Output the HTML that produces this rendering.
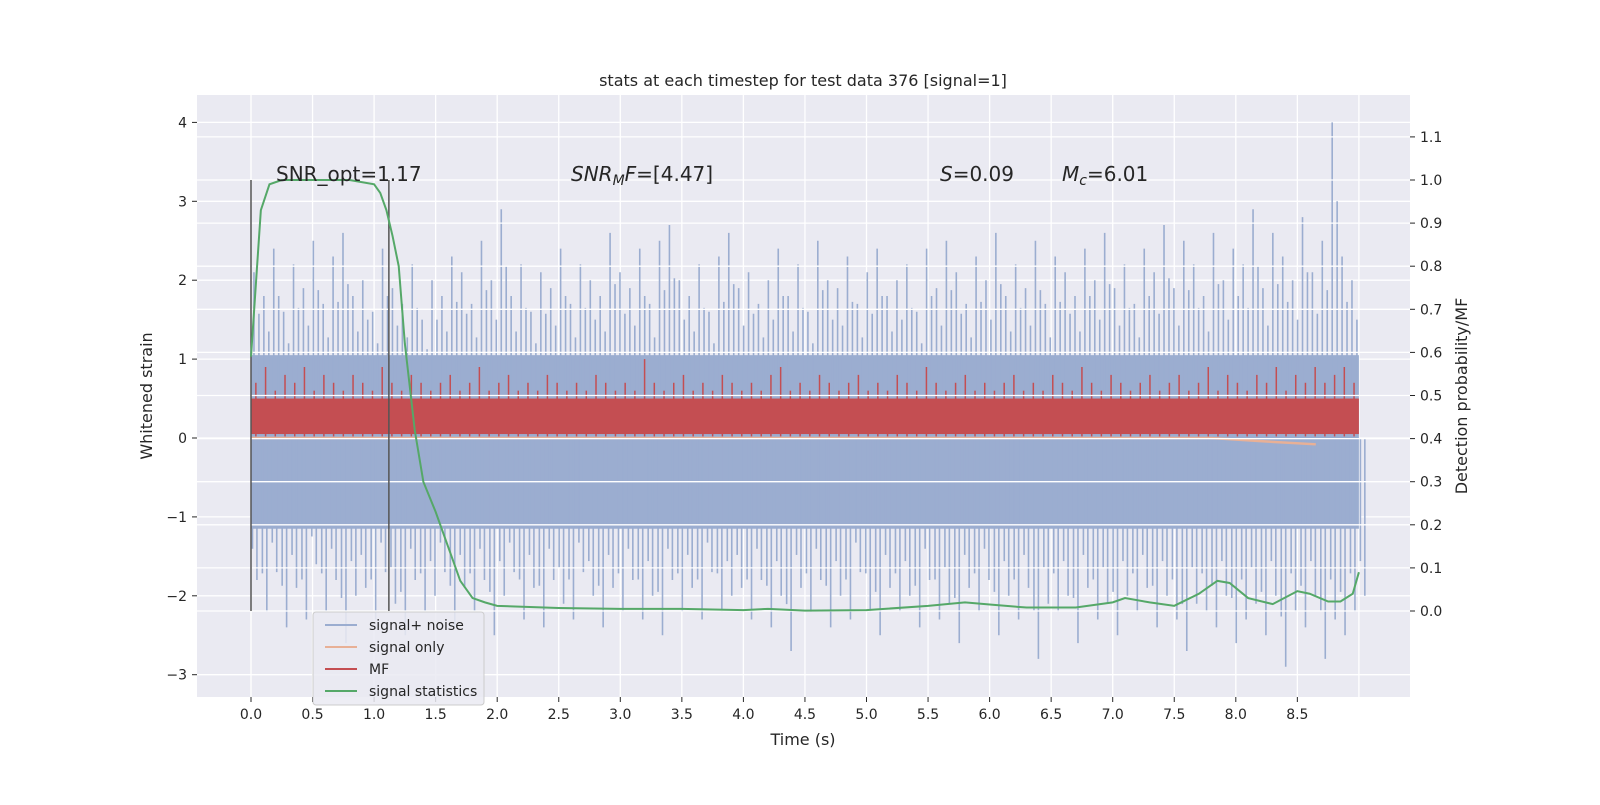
<!DOCTYPE html>
<html><head><meta charset="utf-8"><style>
body{margin:0;background:#fff;font-family:"Liberation Sans","DejaVu Sans",sans-serif}
svg text{font-family:"DejaVu Sans","Liberation Sans",sans-serif}
</style></head><body>
<svg id="chart" width="1600" height="800" xmlns="http://www.w3.org/2000/svg"></svg>
<script>
const timeTicks=[0,0.5,1,1.5,2,2.5,3,3.5,4,4.5,5,5.5,6,6.5,7,7.5,8,8.5];
const leftTicks=[-3,-2,-1,0,1,2,3,4];
const rightTicks=[0,0.1,0.2,0.3,0.4,0.5,0.6,0.7,0.8,0.9,1.0,1.1];
const noiseTop=[2.1,1.8,2.4,1.6,2.2,1.9,2.5,1.7,2.3,2.6,1.8,2.0,1.6,2.4,1.9,1.7,2.2,1.5,2.0,1.8,2.3,2.1,1.7,2.5,2.0,2.9,1.8,2.2,1.6,2.1,1.9,2.4,1.7,2.2,2.0,1.8,2.6,2.1,1.9,2.4,1.7,2.5,2.7,2.0,1.8,2.2,1.6,2.3,2.6,1.9,2.1,1.7,2.0,2.4,1.8,2.2,1.6,2.5,2.0,1.9,2.3,1.7,2.1,2.4,1.8,2.0,2.2,1.6,2.4,1.9,2.5,2.1,1.7,2.3,2.0,2.6,1.8,2.2,1.9,2.5,1.7,2.3,2.1,1.8,2.4,2.0,2.6,1.9,2.2,1.7,2.4,2.1,2.7,1.9,2.5,2.2,1.8,2.6,2.0,2.4,2.2,2.9,1.9,2.6,2.3,2.0,2.8,2.1,2.5,4.0,2.3,2.0];
const noiseBot=[-1.8,-2.2,-1.7,-2.4,-1.9,-2.3,-1.6,-2.2,-1.8,-2.6,-2.0,-1.9,-2.3,-1.7,-2.1,-2.5,-1.8,-2.2,-2.0,-1.7,-2.4,-1.9,-2.2,-1.8,-2.5,-2.0,-1.7,-2.3,-1.9,-2.4,-1.8,-2.1,-2.3,-1.7,-2.0,-2.4,-1.9,-2.2,-1.8,-2.3,-2.0,-2.5,-1.8,-2.2,-1.9,-2.3,-1.7,-2.2,-2.0,-1.9,-2.3,-1.8,-2.4,-2.0,-2.7,-1.9,-2.2,-1.8,-2.4,-2.0,-2.3,-1.7,-2.2,-2.5,-1.9,-2.2,-2.0,-2.4,-1.8,-2.3,-2.1,-2.6,-1.9,-2.2,-1.8,-2.5,-2.0,-2.3,-1.9,-2.8,-2.1,-2.2,-2.0,-2.6,-1.9,-2.3,-2.1,-2.5,-2.0,-2.2,-1.9,-2.4,-2.0,-2.3,-2.7,-2.1,-2.2,-2.4,-2.0,-2.6,-2.3,-2.1,-2.5,-2.0,-2.9,-2.2,-2.4,-2.0,-2.8,-2.3,-2.5,-2.2,-2.0];
const mfPeaks=[0.7,0.9,0.6,0.8,0.7,0.9,0.6,0.8,0.7,0.6,0.8,0.7,0.6,0.9,0.7,0.6,0.8,0.7,0.6,0.7,0.8,0.6,0.7,0.9,0.6,0.7,0.8,0.6,0.7,0.6,0.8,0.7,0.6,0.7,0.6,0.8,0.7,0.6,0.7,0.6,1.0,0.7,0.6,0.7,0.8,0.6,0.7,0.6,0.8,0.7,0.6,0.7,0.6,0.8,0.9,0.6,0.7,0.6,0.8,0.7,0.6,0.7,0.8,0.6,0.7,0.6,0.8,0.7,0.6,0.9,0.7,0.6,0.7,0.8,0.6,0.7,0.6,0.7,0.8,0.6,0.7,0.6,0.8,0.7,0.6,0.9,0.7,0.6,0.8,0.7,0.6,0.7,0.8,0.6,0.7,0.8,0.6,0.7,0.9,0.6,0.8,0.7,0.6,0.8,0.7,0.9,0.6,0.8,0.7,0.9,0.7,0.8,0.9,0.7];
const statT=[0,0.08,0.15,0.25,0.5,0.8,1.0,1.05,1.1,1.15,1.2,1.25,1.33,1.4,1.5,1.6,1.7,1.8,1.9,2.0,2.5,3.0,3.5,4.0,4.2,4.5,5.0,5.5,5.8,6.0,6.3,6.7,7.0,7.1,7.3,7.5,7.7,7.85,7.95,8.1,8.3,8.5,8.6,8.75,8.85,8.95,9.0];
const statV=[0.59,0.93,0.99,1.0,1.0,1.0,0.99,0.97,0.93,0.87,0.8,0.62,0.42,0.3,0.23,0.15,0.07,0.03,0.02,0.012,0.007,0.005,0.005,0.002,0.005,0.001,0.002,0.012,0.02,0.015,0.008,0.008,0.02,0.03,0.02,0.012,0.04,0.07,0.065,0.03,0.016,0.046,0.04,0.022,0.022,0.04,0.09];
const sigT=[0,7.8,8.2,8.65];
const sigV=[0,0,-0.04,-0.08];
const vlines=[0,1.12];

const L=197,R=1410,T=95,B=697;
const X=t=>251+t*123.1;
const Y=v=>438-v*78.9;
const Y2=v=>611-v*431;
const svg=document.getElementById('chart');
const NS='http://www.w3.org/2000/svg';
function mk(tag,at,parent){const e=document.createElementNS(NS,tag);for(const k in at)e.setAttribute(k,at[k]);(parent||svg).appendChild(e);return e;}
let e;
e=mk('rect',{x:L,y:T,width:R-L,height:B-T,fill:'#eaeaf2'});


const grid=mk('g',{stroke:'#fff','stroke-width':1.3});


timeTicks.concat([9]).forEach(t=>mk('line',{x1:X(t),x2:X(t),y1:T,y2:B},grid));
leftTicks.forEach(v=>mk('line',{x1:L,x2:R,y1:Y(v),y2:Y(v)},grid));
// noise
const noise=mk('g',{stroke:'#9badd0','stroke-width':1.6});


mk('rect',{x:X(0),y:Y(1.05),width:X(9)-X(0),height:Y(-1.15)-Y(1.05),fill:'#9badd0',stroke:'none'},noise);
const nStep=9/noiseTop.length;
noiseTop.forEach((v,i)=>{const t=i*nStep+nStep*0.3;mk('line',{x1:X(t),x2:X(t),y1:Y(0),y2:Y(v)},noise);const t2=t+nStep*0.5;mk('line',{x1:X(t2),x2:X(t2),y1:Y(0),y2:Y(v*0.75)},noise);});
noiseBot.forEach((v,i)=>{const t=i*nStep+nStep*0.6;mk('line',{x1:X(t),x2:X(t),y1:Y(0),y2:Y(v)},noise);const t2=t-nStep*0.45;mk('line',{x1:X(t2),x2:X(t2),y1:Y(0),y2:Y(v*0.78)},noise);});
// signal only
e=mk('polyline',{points:sigT.map((t,i)=>X(t)+','+Y(sigV[i])).join(' '),fill:'none',stroke:'#e8b096','stroke-width':2.5});


// MF
const mf=mk('g',{stroke:'#c44e52','stroke-width':1.5});


mk('rect',{x:X(0),y:Y(0.5),width:X(9)-X(0),height:Y(0.05)-Y(0.5),fill:'#c44e52',stroke:'none'},mf);
const mStep=9/mfPeaks.length;
mfPeaks.forEach((v,i)=>{const t=i*mStep+mStep*0.5;mk('line',{x1:X(t),x2:X(t),y1:Y(0.02),y2:Y(v)},mf);});
// right grid on top
const grid2=mk('g',{stroke:'#fff','stroke-width':1.3});


rightTicks.forEach(v=>mk('line',{x1:L,x2:R,y1:Y2(v),y2:Y2(v)},grid2));
vlines.forEach(t=>{e=mk('line',{x1:X(t),x2:X(t),y1:Y2(1.0),y2:Y2(0),stroke:'#555','stroke-width':1.5});

});
e=mk('polyline',{points:statT.map((t,i)=>X(t)+','+Y2(statV[i])).join(' '),fill:'none',stroke:'#55a868','stroke-width':2});


// axes labels
const ax=mk('g',{fill:'#262626','font-size':14});


timeTicks.forEach(t=>{mk('line',{x1:X(t),x2:X(t),y1:B,y2:B+5,stroke:'#262626'},ax);const s=mk('text',{x:X(t),y:B+22,'text-anchor':'middle'},ax);s.textContent=t.toFixed(1);});
leftTicks.forEach(v=>{mk('line',{x1:L-5,x2:L,y1:Y(v),y2:Y(v),stroke:'#262626'},ax);const s=mk('text',{x:L-10,y:Y(v)+5,'text-anchor':'end'},ax);s.textContent=(v<0?'\u2212':'')+Math.abs(v);});
rightTicks.forEach(v=>{mk('line',{x1:R,x2:R+5,y1:Y2(v),y2:Y2(v),stroke:'#262626'},ax);const s=mk('text',{x:R+10,y:Y2(v)+5},ax);s.textContent=v.toFixed(1);});
</script>
<svg style="position:absolute;left:0;top:0" width="1600" height="800">
<text x="803" y="86" text-anchor="middle" font-size="16" fill="#262626">stats at each timestep for test data 376 [signal=1]</text>
<text x="803" y="745" text-anchor="middle" font-size="16" fill="#262626">Time (s)</text>
<text transform="translate(152,396) rotate(-90)" text-anchor="middle" font-size="16" fill="#262626">Whitened strain</text>
<text transform="translate(1467,396) rotate(-90)" text-anchor="middle" font-size="16" fill="#262626">Detection probability/MF</text>
<text x="276" y="181" font-size="20" fill="#262626">SNR_opt=1.17</text>
<text x="571" y="181" font-size="20" fill="#262626"><tspan font-style="italic">SNR</tspan><tspan font-style="italic" font-size="14" dy="4">M</tspan><tspan font-style="italic" dy="-4">F</tspan>=[4.47]</text>
<text x="940" y="181" font-size="20" fill="#262626"><tspan font-style="italic">S</tspan>=0.09</text>
<text x="1062" y="181" font-size="20" fill="#262626"><tspan font-style="italic">M</tspan><tspan font-style="italic" font-size="14" dy="4">c</tspan><tspan dy="-4">=6.01</tspan></text>
<g>
<rect x="313" y="612" width="171" height="93" rx="3" fill="#eaeaf2" fill-opacity="0.85" stroke="#cccccc"/>
<line x1="325" x2="357" y1="625" y2="625" stroke="#9badd0" stroke-width="2"/><text x="369" y="630" font-size="14" fill="#262626">signal+ noise</text>
<line x1="325" x2="357" y1="647" y2="647" stroke="#e8b096" stroke-width="2"/><text x="369" y="652" font-size="14" fill="#262626">signal only</text>
<line x1="325" x2="357" y1="669" y2="669" stroke="#c44e52" stroke-width="2"/><text x="369" y="674" font-size="14" fill="#262626">MF</text>
<line x1="325" x2="357" y1="691" y2="691" stroke="#55a868" stroke-width="2"/><text x="369" y="696" font-size="14" fill="#262626">signal statistics</text>
</g>
</svg>
</body></html>
